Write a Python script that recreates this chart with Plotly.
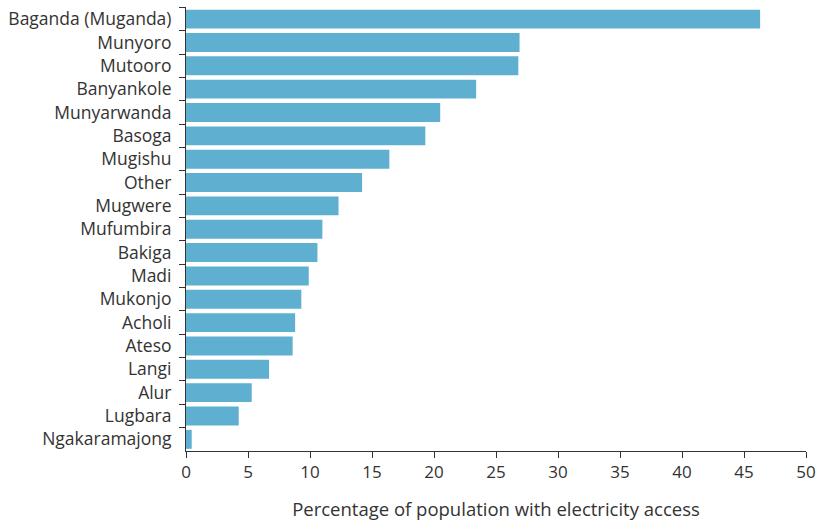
import plotly.graph_objects as go

groups = ["Baganda (Muganda)", "Munyoro", "Mutooro", "Banyankole", "Munyarwanda",
          "Basoga", "Mugishu", "Other", "Mugwere", "Mufumbira", "Bakiga", "Madi",
          "Mukonjo", "Acholi", "Ateso", "Langi", "Alur", "Lugbara", "Ngakaramajong"]
access = [46.3, 26.9, 26.8, 23.4, 20.5, 19.3, 16.4, 14.2, 12.3, 11.0, 10.6, 9.9,
          9.3, 8.8, 8.6, 6.7, 5.3, 4.25, 0.46]
x_ticks = [0, 5, 10, 15, 20, 25, 30, 35, 40, 45, 50]

fig = go.Figure(go.Bar(
    x=access, y=groups, orientation="h",
    marker=dict(color="#5eafd0", line=dict(width=0)),
    width=0.81,
))

font_fam = "'Open Sans', sans-serif"
fig.update_layout(
    width=818, height=525,
    margin=dict(l=186, r=12, t=7, b=74),
    plot_bgcolor="white", paper_bgcolor="white",
    font=dict(family=font_fam, size=17.5, color="#333333"),
    showlegend=False,
    xaxis=dict(
        range=[0, 50], tickvals=x_ticks, ticks="outside", ticklen=6,
        tickcolor="#333", showline=True, linecolor="#333", linewidth=1,
        showgrid=False, zeroline=False, automargin=False,
        title=dict(text="Percentage of population with electricity access",
                   font=dict(size=18.5), standoff=20),
        tickfont=dict(size=17),
    ),
    yaxis=dict(
        categoryorder="array", categoryarray=groups,
        range=[18.5, -0.52], ticks="outside", ticklen=6, tickcolor="#333",
        tickson="boundaries", showline=True, linecolor="#333", linewidth=1,
        showgrid=False, zeroline=False, tickfont=dict(size=17.5),
        automargin=False, ticklabelstandoff=10,
    ),
)

fig.write_html(
    "out.html",
    config={"displayModeBar": False},
    post_script="document.body.style.margin='0';document.body.style.overflow='hidden';",
)
